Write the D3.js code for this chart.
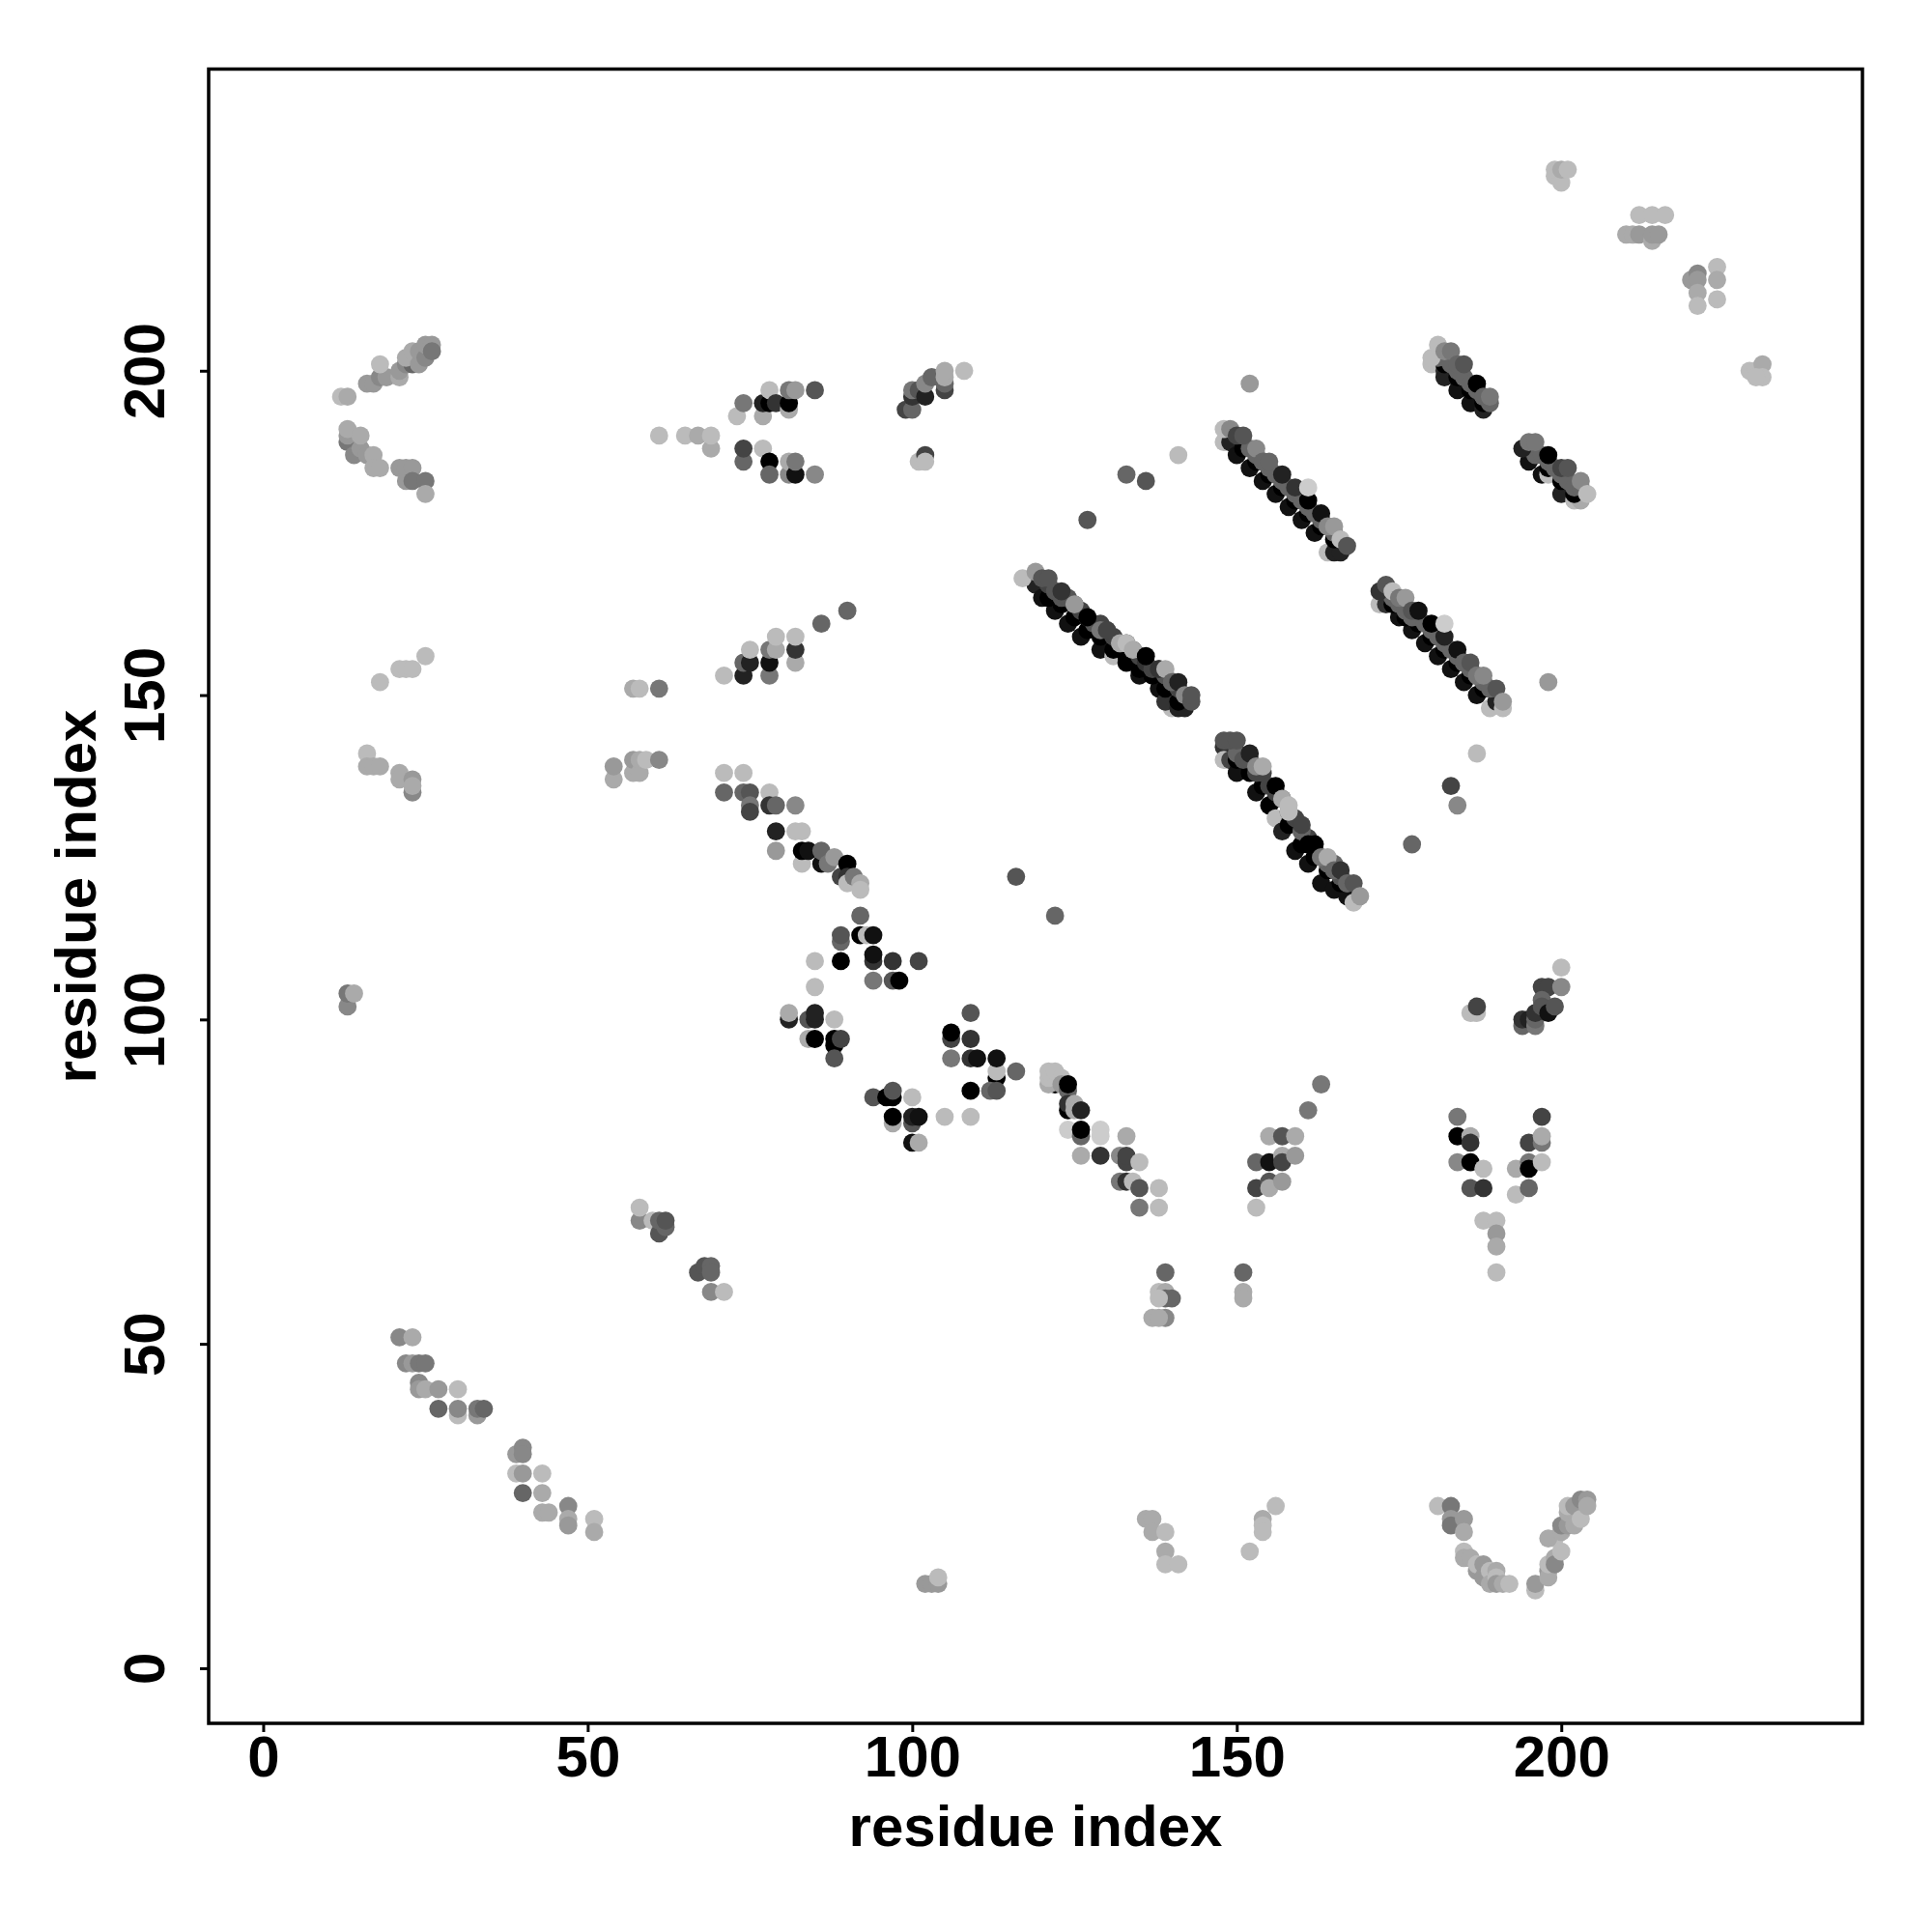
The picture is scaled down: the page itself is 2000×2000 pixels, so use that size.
<!DOCTYPE html>
<html><head><meta charset="utf-8">
<script src="https://cdn.jsdelivr.net/npm/d3@7/dist/d3.min.js"></script>
<style>html,body{margin:0;background:#fff}svg{display:block}</style></head>
<body><div id="c"></div>
<script>
// each point: [residue x, residue y, contact level 0 (weak) .. 12 (strong)]
const topLeftArm=[[12,196,1],[13,196,2],[16,198,3],[17,198,3],[18,199,4],[19,199,3],[18,201,1],[21,199,2],[21,200,3],[22,201,4],[23,201,6],[22,202,2],[23,203,2],[24,201,3],[24,203,3],[25,202,4],[25,204,3],[26,204,3],[26,203,5]];
const topLeftLower=[[13,189,5],[13,190,3],[13,191,2],[14,187,4],[15,188,3],[15,190,2],[16,187,3],[17,187,2],[17,185,2],[18,185,2],[21,185,3],[22,185,3],[23,185,3],[22,183,3],[23,183,5],[25,183,5],[25,181,2]];
const leftSmall=[[13,102,4],[13,104,5],[14,104,2],[18,152,1],[21,154,1],[22,154,1],[23,154,1],[25,156,1],[16,141,1],[16,139,2],[17,139,2],[18,139,2],[21,138,2],[21,137,2],[23,135,4],[23,137,3],[23,136,2]];
const midLeft=[[54,137,2],[54,139,3],[57,138,2],[57,140,3],[58,138,2],[58,140,2],[59,140,1],[61,140,4],[57,151,2],[58,151,1],[61,151,5],[61,190,1],[65,190,1],[67,190,2],[69,188,2],[69,190,1],[73,193,1]];
const upperMid=[[74,195,5],[77,193,2],[77,195,10],[78,195,12],[78,197,1],[79,195,9],[81,194,2],[81,195,12],[81,197,5],[82,197,3],[85,197,7],[74,186,6],[74,188,8],[77,188,1],[78,186,12],[78,184,6],[81,184,4],[81,186,2],[82,184,11],[82,186,5],[85,184,4]];
const midStrand=[[71,153,1],[74,153,10],[74,155,6],[75,155,10],[75,157,1],[78,153,5],[78,155,11],[78,157,5],[79,157,2],[79,159,1],[82,155,2],[82,157,9],[82,159,1],[86,161,6],[90,163,6]];
const descending=[[71,135,6],[71,138,1],[74,138,1],[74,135,6],[75,135,7],[75,133,5],[75,132,8],[78,135,1],[78,133,9],[79,133,6],[79,129,10],[79,126,3],[82,133,4],[82,129,1],[83,129,1],[83,124,1],[83,126,12],[84,126,11],[86,124,11],[86,126,6],[87,124,5],[88,125,3],[89,122,8],[90,124,12],[90,122,9],[90,121,1],[91,122,5],[92,121,2],[92,120,1]];
const centerA=[[92,116,6],[89,112,6],[89,113,7],[92,113,12],[93,113,1],[94,113,11],[94,109,9],[94,110,11],[85,109,1],[89,109,12],[97,109,9],[101,109,8],[94,106,5],[97,106,7],[98,106,12],[85,105,1],[81,100,10],[81,101,2],[84,100,7],[85,100,10],[85,101,10],[88,100,1],[84,97,2],[85,97,12],[88,96,12],[88,97,12],[89,97,8],[88,94,7]];
const centerB=[[109,101,7],[106,97,8],[106,98,12],[109,97,9],[106,94,5],[109,94,9],[110,94,11],[113,91,12],[113,92,1],[113,94,11],[116,92,6],[109,89,12],[112,89,6],[113,89,7],[94,88,7],[96,88,12],[97,88,12],[97,89,7],[100,88,1],[97,84,2],[97,85,12],[100,84,7],[100,85,10],[101,85,11],[105,85,1],[109,85,1],[100,81,11],[101,81,2]];
const descendingB=[[122,90,12],[121,90,2],[121,91,1],[121,92,1],[122,92,1],[123,91,1],[123,90,3],[124,89,6],[124,90,12],[124,86,12],[124,87,9],[125,87,2],[125,86,2],[126,86,10],[124,83,0],[126,82,6],[126,83,12],[129,82,0],[129,83,0],[126,79,2],[129,79,9],[132,79,4],[133,78,8],[133,79,8],[133,82,2],[132,75,5],[133,75,9],[134,75,1],[135,78,1],[135,74,7],[135,71,5],[138,74,1],[138,71,1]];
const bottomMid=[[139,61,6],[138,58,1],[139,58,2],[139,57,6],[140,57,6],[138,57,1],[137,54,2],[139,54,4],[138,54,2],[151,61,6],[151,58,2],[151,57,2]];
const vShape=[[153,78,6],[153,74,8],[153,71,1],[155,82,2],[155,78,11],[155,75,7],[155,74,2],[157,82,7],[157,79,2],[157,78,8],[157,75,3],[159,82,2],[159,79,3],[161,86,5],[163,90,5]];
const rightV=[[184,85,5],[184,78,4],[184,82,12],[186,82,2],[186,81,9],[186,78,12],[186,74,7],[188,77,1],[188,74,9],[188,69,1],[190,69,1],[190,67,3],[190,65,2],[190,61,1],[193,73,1],[193,77,2],[195,81,8],[195,78,5],[195,77,12],[195,74,6],[197,85,8],[197,81,5],[197,82,2],[197,78,1]];
const rightCluster=[[186,101,1],[187,101,1],[187,102,8],[194,99,6],[194,100,9],[195,100,10],[196,99,5],[196,100,6],[196,101,9],[197,105,8],[198,105,8],[197,103,6],[197,102,7],[198,101,11],[199,102,7],[200,105,4],[200,108,1]];
const isolated=[[133,184,6],[136,183,7],[141,187,1],[127,177,7],[116,122,7],[122,116,6],[152,198,3],[198,152,3],[187,141,1],[183,136,8],[184,133,4],[177,127,6]];
const upperB=[[99,194,8],[100,194,6],[100,196,9],[100,197,5],[101,197,7],[102,196,10],[102,198,4],[103,199,6],[105,197,8],[105,198,6],[105,199,2],[105,200,2],[108,200,1],[101,186,1],[102,187,8],[102,186,1]];
const topRight=[[199,230,1],[199,231,1],[200,229,1],[200,231,2],[201,231,1],[210,221,2],[211,221,2],[212,224,1],[212,221,3],[214,220,2],[214,221,3],[215,221,3],[214,224,1],[216,224,1],[220,214,3],[221,215,4],[221,214,3],[221,212,2],[221,210,1],[224,216,1],[224,214,2],[224,211,1],[229,200,1],[230,200,1],[231,201,2],[231,199,1],[230,199,1]];
const lowerLeftA=[[58,69,4],[58,71,1],[60,69,1],[61,67,7],[61,69,6],[62,68,6],[62,69,7],[67,61,7],[68,62,7],[69,62,6],[69,61,6],[69,58,4],[71,58,1]];
const lowerArc=[[21,51,4],[23,51,2],[22,47,4],[23,47,3],[24,47,5],[25,47,5],[24,44,4],[24,43,3],[25,43,2],[27,43,3],[30,43,1],[27,40,6],[30,39,1],[30,40,4],[33,39,3],[33,40,5],[34,40,6],[39,33,3],[40,34,4],[40,33,4],[39,30,1],[40,30,3],[40,27,6],[43,30,1],[43,27,2],[43,24,2],[44,24,2],[47,25,4],[47,23,2],[47,22,3],[51,23,1],[51,21,2]];
const bottomRow=[[102,13,3],[103,13,3],[104,13,3],[104,14,1],[136,23,2],[137,23,2],[137,21,2],[139,21,1],[139,18,2],[139,16,1],[141,16,1],[152,18,1],[154,23,2],[154,22,1],[154,21,1],[156,25,1]];
const bottomV=[[181,25,1],[183,25,5],[183,23,3],[183,22,5],[185,23,3],[185,21,2],[185,18,1],[185,17,2],[186,17,2],[187,15,3],[187,16,1],[188,16,3],[188,14,3],[189,15,1],[189,13,2],[190,15,2],[190,14,1],[190,13,3],[191,13,2],[192,13,1],[196,12,1],[196,13,3],[198,15,3],[198,14,2],[198,16,1],[199,17,2],[199,16,4],[199,20,1],[198,20,2],[200,18,1],[200,21,2],[200,22,4],[201,22,3],[201,24,2],[201,25,1],[202,22,2],[202,25,3],[203,23,1],[203,26,4],[204,26,3],[204,25,2]];
const band1=[[119,167,10],[120,165,11],[122,163,11],[124,161,11],[126,159,11],[129,157,11],[131,156,1],[133,155,12],[135,153,11],[138,151,11],[140,148,1],[139,149,9],[141,148,10],[142,148,10],
[121,165,12],[123,164,12],[125,162,12],[127,160,12],[129,159,12],[131,157,12],[133,156,12],[135,154,12],[137,153,12],[139,151,12],[141,149,12],
[121,167,8],[122,166,7],[123,165,7],[124,165,7],[125,164,7],[126,163,8],[127,162,8],[128,161,7],[129,161,8],[130,160,8],[131,159,8],[132,158,8],[133,158,8],[134,157,8],[135,156,8],[136,155,9],[137,154,8],[138,154,8],[139,153,7],[140,152,8],[141,151,8],
[117,168,1],[119,169,3],[120,168,7],[121,168,7],[123,166,9],[125,164,3],[127,162,12],[129,160,5],[130,160,8],[132,158,2],[133,158,1],[134,157,2],[136,156,12],[138,154,9],[139,154,2],[140,152,6],[141,152,10],[142,150,4],[143,149,7],[143,150,7]];
const band2=[[148,142,9],[148,140,1],[149,140,8],[150,138,11],[153,135,11],[155,133,12],[156,131,1],[157,129,10],[159,126,11],[161,124,11],[163,121,11],[165,120,11],[167,119,11],[168,118,1],
[150,140,12],[152,138,12],[154,136,12],[156,134,12],[158,130,12],[160,127,12],[162,125,12],[164,123,12],[166,121,12],
[150,141,6],[151,140,7],[152,140,7],[153,138,8],[154,138,8],[155,136,8],[156,135,8],[157,134,8],[158,132,7],[159,131,8],[160,129,6],[161,128,8],[162,127,8],[163,125,6],[164,124,6],[165,124,6],[166,122,7],[167,121,7],
[148,143,7],[149,143,7],[150,143,7],[152,141,10],[153,139,4],[154,139,2],[156,136,12],[157,134,2],[158,132,1],[158,133,1],[160,129,6],[160,130,8],[161,127,12],[162,127,12],[163,125,5],[164,125,2],[165,123,6],[166,123,9],[167,121,6],[168,121,7],[169,119,3]];
const band3=[[148,189,1],[149,189,10],[150,187,11],[152,185,11],[154,183,11],[156,181,11],[158,179,11],[160,177,11],[162,175,11],[164,172,1],[165,172,10],[166,172,10],
[151,188,12],[153,186,12],[155,184,12],[157,182,12],[159,180,12],[161,178,12],[163,176,12],[165,174,12],
[152,188,6],[153,187,6],[154,186,6],[155,185,6],[156,184,6],[157,183,6],[158,182,6],[159,181,6],[160,180,6],[161,179,6],[162,178,6],[163,177,6],[164,176,6],[165,175,6],
[148,191,1],[149,191,4],[150,190,8],[151,190,7],[153,188,4],[154,186,6],[155,186,6],[157,184,10],[159,182,9],[161,180,12],[161,182,0],[163,178,11],[164,176,4],[165,176,3],[166,174,1],[167,173,7]];
const band4=[[172,164,1],[173,164,9],[175,162,11],[177,160,11],[179,158,11],[181,156,11],[183,154,11],[185,152,11],[187,150,11],[189,148,1],[190,149,10],
[174,164,12],[176,162,12],[178,161,12],[180,159,12],[182,157,12],[184,155,12],[186,153,12],[188,151,12],
[174,165,6],[175,164,6],[176,163,6],[177,162,6],[178,162,6],[179,161,6],[180,160,6],[181,159,6],[182,158,6],[183,157,6],[184,156,6],[185,155,6],[186,154,6],[187,153,6],[188,152,6],[189,151,6],
[172,166,9],[173,167,7],[174,166,1],[175,165,5],[176,165,3],[177,163,7],[178,163,11],[180,161,12],[182,159,10],[182,161,0],[184,157,11],[185,155,6],[186,155,7],[187,153,5],[188,153,4],[190,151,7],[191,148,1],[191,149,3]];
const band5=[[180,201,1],[182,200,9],[182,199,10],[184,197,11],[186,195,11],[188,194,10],
[182,201,12],[184,199,12],[186,197,12],[188,195,12],
[181,202,6],[182,202,6],[183,201,6],[184,200,6],[185,199,6],[186,198,6],[187,197,6],[188,196,6],
[180,202,1],[181,204,1],[182,203,4],[183,203,5],[184,201,6],[185,201,7],[187,198,12],[188,196,6],[189,195,6],[189,196,5]];
const band6=[[195,186,11],[197,184,11],[198,184,1],[200,181,10],[202,180,1],[203,180,2],
[196,187,12],[198,185,12],[200,183,12],[202,181,12],
[195,188,6],[196,187,6],[197,187,6],[198,186,6],[199,185,6],[200,184,6],[201,183,6],[202,182,6],[203,182,6],
[194,188,10],[195,189,5],[196,189,5],[198,187,12],[200,185,8],[201,185,7],[203,183,4],[204,181,1]];
const allSeries=[topLeftArm,topLeftLower,leftSmall,midLeft,upperMid,midStrand,descending,centerA,centerB,descendingB,bottomMid,vShape,rightV,rightCluster,isolated,upperB,topRight,lowerLeftA,lowerArc,bottomRow,bottomV,band1,band2,band3,band4,band5,band6];
const tickValues=[0,50,100,150,200];
const axisTitle="residue index";

const W=2000,H=2000,L=216,R=1928,T=71.5,B=1784;
const x=d3.scaleLinear().domain([-8.4,246.4]).range([L,R]);
const y=d3.scaleLinear().domain([-8.5,246.5]).range([B,T]);
const shade=d3.scaleLinear().domain([0,12]).range(["#cccccc","#000000"]);
const font="'Liberation Sans',Arial,sans-serif";
const svg=d3.select("#c").append("svg").attr("width",W).attr("height",H);
svg.append("rect").attr("width",W).attr("height",H).attr("fill","#fff");
svg.append("g").selectAll("circle").data(allSeries.flat()).join("circle")
  .attr("cx",d=>x(d[0])).attr("cy",d=>y(d[1])).attr("r",9.4).attr("fill",d=>shade(d[2]));
svg.append("rect").attr("x",L).attr("y",T).attr("width",R-L).attr("height",B-T)
  .attr("fill","none").attr("stroke","#000").attr("stroke-width",3.5);
const gx=svg.append("g").attr("transform",`translate(0,${B})`)
  .call(d3.axisBottom(x).tickValues(tickValues).tickSize(9).tickPadding(0).tickSizeOuter(0));
gx.select(".domain").remove();
gx.selectAll("line").attr("stroke","#000").attr("stroke-width",3);
gx.selectAll("text").attr("y",55).attr("dy",0).attr("fill","#000")
  .style("font",`bold 60px ${font}`);
const gy=svg.append("g").attr("transform",`translate(${L},0)`)
  .call(d3.axisLeft(y).tickValues(tickValues).tickSize(9).tickSizeOuter(0));
gy.select(".domain").remove();
gy.selectAll("line").attr("stroke","#000").attr("stroke-width",3);
gy.selectAll("text").attr("x",0).attr("dy",0).attr("text-anchor","middle")
  .attr("transform","translate(-46,0) rotate(-90)").attr("fill","#000")
  .style("font",`bold 60px ${font}`);
svg.append("text").attr("x",1072).attr("y",1911).attr("text-anchor","middle")
  .style("font",`bold 60px ${font}`).text(axisTitle);
svg.append("text").attr("transform","translate(99,928) rotate(-90)").attr("text-anchor","middle")
  .style("font",`bold 60px ${font}`).text(axisTitle);
</script></body></html>
